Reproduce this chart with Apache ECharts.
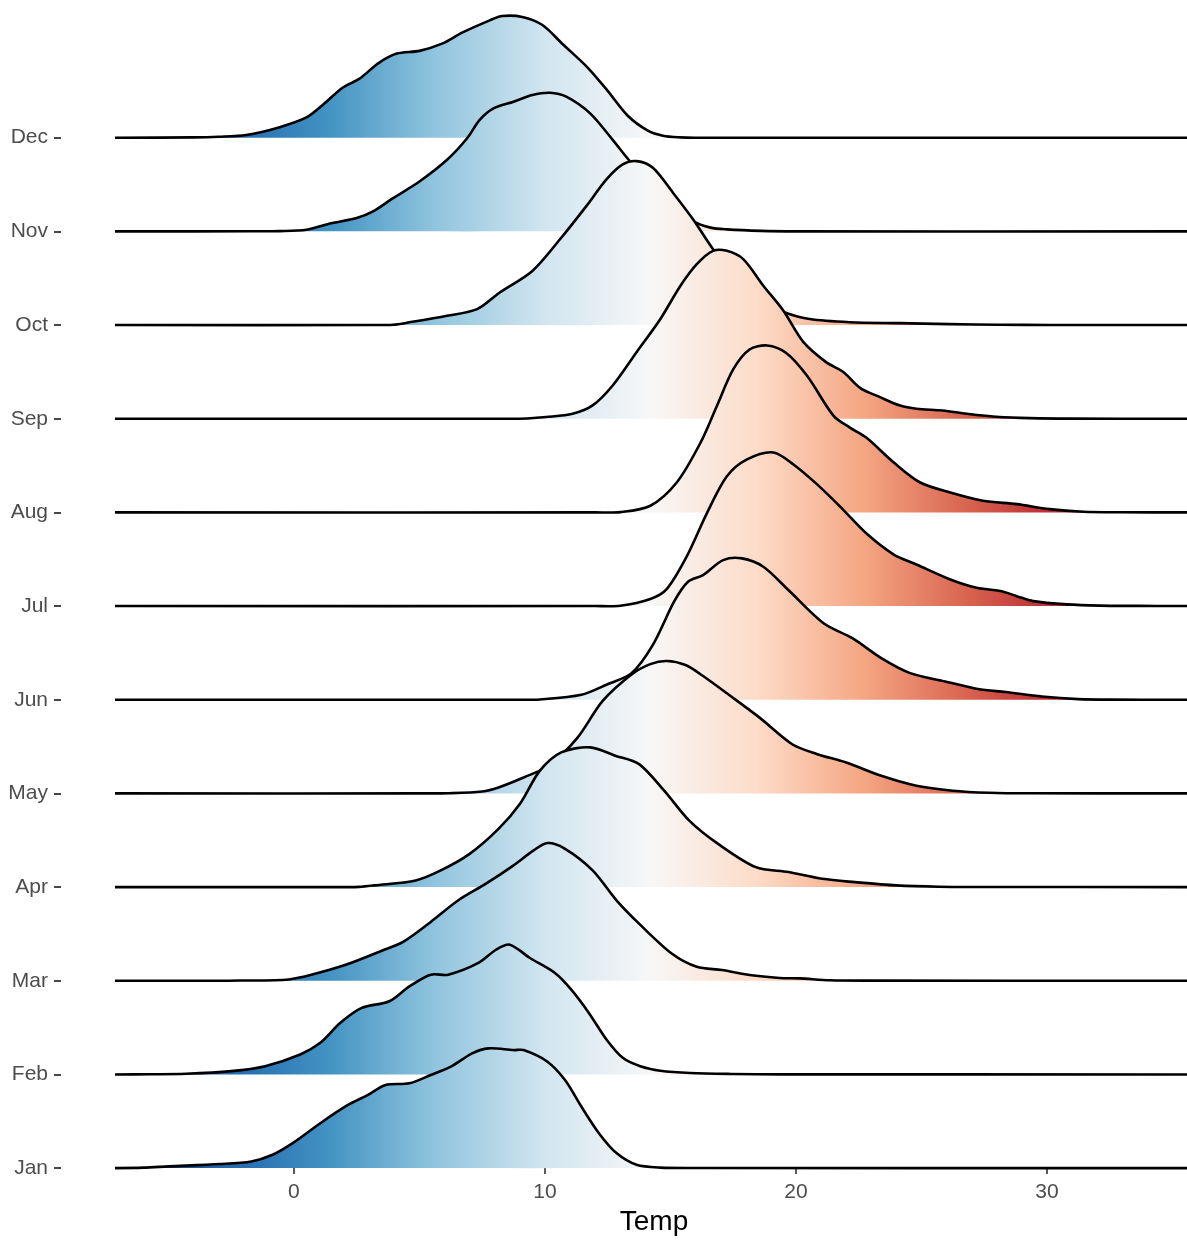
<!DOCTYPE html>
<html>
<head>
<meta charset="utf-8">
<script src="https://cdn.jsdelivr.net/npm/echarts@6/dist/echarts.min.js"></script>
<style>
html,body{margin:0;padding:0;background:#ffffff;}
#chart{width:1187px;height:1241px;}
</style>
</head>
<body>
<div id="chart"></div>
<script>
// Categories (bottom to top)
const months = ['Jan','Feb','Mar','Apr','May','Jun','Jul','Aug','Sep','Oct','Nov','Dec'];
const xTicks = [0, 10, 20, 30];

// Ridge heights: [temperature, scaled density] (1 = one row of spacing)
const jan = [[-6,0.005],[-5,0.018],[-2.95,0.043],[-1.7,0.071],[-0.85,0.142],[-0.05,0.266],[1.05,0.479],[2.15,0.674],[2.95,0.781],[3.65,0.887],[4.6,0.905],[5.45,0.994],[6.25,1.083],[7.1,1.225],[7.75,1.278],[8.75,1.26],[9.15,1.26],[10.1,1.136],[10.8,0.94],[11.45,0.657],[12.15,0.373],[12.85,0.16],[13.65,0.035],[14.6,0.005],[16.2,0.001]];
const feb = [[-5.75,0.002],[-4.3,0.007],[-2.5,0.035],[-1.15,0.088],[0.25,0.213],[1.05,0.338],[1.85,0.551],[2.7,0.71],[3.8,0.781],[4.6,0.94],[5.45,1.065],[6.15,1.065],[7.35,1.19],[8.05,1.331],[8.6,1.385],[9.4,1.243],[10.4,1.083],[11.05,0.905],[11.75,0.657],[12.45,0.373],[13.1,0.178],[13.8,0.088],[14.6,0.04],[15.8,0.015],[17.4,0.005],[19.4,0.001]];
const mar = [[-3,0],[-2.15,0.002],[-0.2,0.014],[0.8,0.071],[2.15,0.178],[3.5,0.32],[4.35,0.415],[5.45,0.628],[6.55,0.859],[7.65,1.036],[8.75,1.232],[9.55,1.392],[10.1,1.47],[10.8,1.409],[11.9,1.179],[12.85,0.859],[13.75,0.61],[15.05,0.291],[16.05,0.149],[17.05,0.114],[18.15,0.061],[19.35,0.03],[20.15,0.025],[21.35,0.005],[22.95,0.001]];
const apr = [[2,0],[2.6,0.002],[3.2,0.018],[4.85,0.071],[5.85,0.178],[7.0,0.355],[8.15,0.621],[9.0,0.887],[9.8,1.243],[10.65,1.438],[11.8,1.491],[12.8,1.403],[13.75,1.313],[14.75,1.03],[15.75,0.71],[16.9,0.461],[18.4,0.213],[19.7,0.16],[21.05,0.088],[22.35,0.053],[24,0.018],[25.7,0.004],[27.7,0.001]];
const may = [[5,0],[6.2,0.002],[7.5,0.021],[8.15,0.064],[9.15,0.17],[10.15,0.295],[11.3,0.596],[12.3,0.987],[13.45,1.27],[14.2,1.38],[14.85,1.413],[15.6,1.37],[16.3,1.253],[17.3,1.058],[18.55,0.809],[19.85,0.525],[20.85,0.419],[22,0.33],[23.4,0.188],[24.8,0.082],[26.25,0.029],[27.7,0.007],[29.3,0.001]];
const jun = [[9,0],[9.8,0.003],[11.45,0.053],[12.45,0.16],[13.45,0.284],[14.3,0.586],[15.15,1.05],[15.7,1.26],[16.3,1.331],[17.1,1.49],[17.85,1.509],[18.7,1.42],[19.7,1.171],[21.1,0.817],[22.25,0.657],[23.4,0.444],[24.55,0.284],[25.95,0.195],[27.25,0.114],[28.35,0.082],[29.8,0.035],[31.25,0.007],[32.5,0.001]];
const jul = [[12,0],[13,0.003],[14.2,0.075],[14.85,0.18],[15.65,0.53],[16.45,0.99],[17.25,1.385],[18.05,1.565],[19.1,1.64],[19.9,1.512],[20.8,1.31],[21.75,1.065],[22.8,0.777],[23.9,0.55],[24.8,0.444],[26.15,0.284],[27.2,0.195],[28.15,0.16],[28.8,0.106],[29.45,0.053],[30.8,0.018],[32.1,0.005],[33.7,0.002],[35,0]];
const aug = [[12,0],[13,0.003],[14.2,0.071],[15.25,0.319],[16.2,0.745],[16.85,1.136],[17.5,1.526],[18.15,1.739],[18.85,1.782],[19.6,1.704],[20.45,1.456],[21.5,1.03],[22.15,0.905],[22.8,0.799],[23.9,0.532],[24.95,0.319],[26.15,0.213],[27.45,0.125],[28.8,0.088],[30.1,0.035],[31.45,0.007],[32.9,0.001]];
const sep = [[8.5,0],[9.3,0.003],[10.05,0.018],[11.1,0.053],[11.9,0.142],[12.7,0.355],[13.65,0.71],[14.6,1.065],[15.4,1.42],[16.05,1.65],[16.7,1.792],[17.25,1.792],[17.9,1.704],[18.7,1.42],[19.5,1.153],[20.3,0.817],[21.2,0.604],[21.9,0.497],[22.55,0.33],[23.35,0.23],[24.15,0.14],[24.8,0.106],[25.85,0.088],[26.8,0.053],[28.1,0.018],[29.3,0.006],[30.9,0.001]];
const oct = [[3.0,0],[3.95,0.003],[4.6,0.029],[6.1,0.099],[7.3,0.17],[8.2,0.348],[9.5,0.578],[10.6,0.916],[11.65,1.27],[12.45,1.555],[13.1,1.715],[13.65,1.75],[14.3,1.679],[15.1,1.413],[15.9,1.129],[16.7,0.809],[17.4,0.586],[18.2,0.373],[19.0,0.213],[19.5,0.14],[20.55,0.064],[22.15,0.03],[24.1,0.02],[26.1,0.01],[28.1,0.003],[30.1,0.001]];
const nov = [[-1.75,0.001],[-0.56,0.003],[0.5,0.018],[1.4,0.082],[2.5,0.142],[3.15,0.213],[3.95,0.355],[5.0,0.532],[6.1,0.764],[6.9,0.994],[7.4,1.19],[7.95,1.313],[8.75,1.384],[9.5,1.456],[10.2,1.48],[10.85,1.438],[11.8,1.26],[12.7,0.977],[13.4,0.745],[14.2,0.53],[15.0,0.30],[15.9,0.11],[16.6,0.04],[17.25,0.021],[18.6,0.005],[20,0]];
const dec = [[-4,0.003],[-3,0.01],[-1.9,0.029],[-0.6,0.11],[0.5,0.216],[1.2,0.362],[1.95,0.536],[2.6,0.628],[3.4,0.802],[4.1,0.898],[5.0,0.927],[5.9,1.004],[6.7,1.121],[7.8,1.253],[8.3,1.299],[9.1,1.289],[9.9,1.203],[10.7,1.001],[11.7,0.749],[12.5,0.5],[13.3,0.234],[14.1,0.075],[14.7,0.021],[15.4,0.003],[16,0]];

const ridges = [jan, feb, mar, apr, may, jun, jul, aug, sep, oct, nov, dec];

// Range of the density estimate and of the colour scale
const densityFrom = -7.13;
const densityTo = 35.6;
const fillLow = -7.13;
const fillHigh = 35.6;
const rdbu = ['#053061','#2166ac','#4393c3','#92c5de','#d1e5f0','#f7f7f7','#fddbc7','#f4a582','#d6604d','#b2182b','#67001f'];

const chart = echarts.init(document.getElementById('chart'), null, {renderer: 'canvas'});

function ridgeSeries(idx) {
  const pts = [[densityFrom, 0]].concat(ridges[idx], [[densityTo, 0]]);
  return {
    type: 'custom',
    name: months[idx],
    coordinateSystem: 'cartesian2d',
    data: [[densityFrom, idx]],
    silent: true,
    renderItem: function (params, api) {
      const top = pts.map(function (p) { return api.coord([p[0], idx + p[1]]); });
      const g0 = api.coord([fillLow, idx])[0];
      const g1 = api.coord([fillHigh, idx])[0];
      const stops = rdbu.map(function (c, k) { return {offset: k / (rdbu.length - 1), color: c}; });
      const grad = new echarts.graphic.LinearGradient(g0, 0, g1, 0, stops, true);
      return {
        type: 'group',
        children: [
          {type: 'polygon', shape: {points: top, smooth: 0.3}, style: {fill: grad, stroke: null}},
          {type: 'polyline', shape: {points: top, smooth: 0.3}, style: {fill: null, stroke: '#000000', lineWidth: 2.6, lineJoin: 'round'}}
        ]
      };
    }
  };
}

const seriesList = [];
for (let i = ridges.length - 1; i >= 0; i--) seriesList.push(ridgeSeries(i));

const monthIdx = months.map(function (m, i) { return i; });

chart.setOption({
  animation: false,
  backgroundColor: '#ffffff',
  textStyle: {fontFamily: '"Liberation Sans", Arial, sans-serif'},
  grid: {left: 61, right: 0, top: 0, bottom: 67, containLabel: false},
  xAxis: {
    type: 'value',
    min: -9.28,
    max: 35.58,
    name: 'Temp',
    nameLocation: 'middle',
    nameGap: 38,
    nameTextStyle: {fontSize: 28, color: '#000000', padding: [0, 0, 0, 60], fontFamily: '"Liberation Sans", Arial, sans-serif'},
    axisLine: {show: false, onZero: false},
    splitLine: {show: false},
    axisTick: {show: true, customValues: xTicks, length: 6, lineStyle: {color: '#333333', width: 1.6}},
    axisLabel: {customValues: xTicks, margin: 14, fontSize: 21, color: '#4d4d4d', fontFamily: '"Liberation Sans", Arial, sans-serif'}
  },
  yAxis: {
    type: 'value',
    min: 0,
    max: 12.47,
    axisLine: {show: false, onZero: false},
    splitLine: {show: false},
    axisTick: {show: true, customValues: monthIdx, length: 7, lineStyle: {color: '#333333', width: 1.8}},
    axisLabel: {
      customValues: monthIdx,
      margin: 13,
      fontSize: 21,
      color: '#4d4d4d',
      fontFamily: '"Liberation Sans", Arial, sans-serif',
      formatter: function (v) { return months[Math.round(v)]; }
    }
  },
  series: seriesList
});
</script>
</body>
</html>
